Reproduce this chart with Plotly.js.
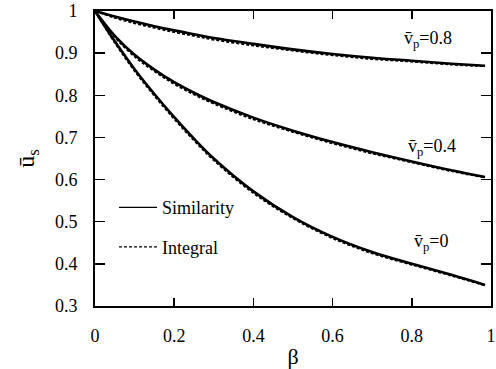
<!DOCTYPE html>
<html>
<head>
<meta charset="utf-8">
<script src="https://cdn.plot.ly/plotly-3.0.1.min.js"></script>
<style>
html,body{margin:0;padding:0;background:#fff;}
#chart{width:496px;height:369px;}
svg text{font-family:'Liberation Serif','Times New Roman','DejaVu Serif',serif !important;}
</style>
</head>
<body>
<div id="chart"></div>
<script>
// beta values
const beta = [0, 0.05, 0.1, 0.15, 0.2, 0.25, 0.3, 0.4, 0.5, 0.6, 0.7, 0.8, 0.9, 0.985];
// Similarity solution
const sim_vp0  = [1, 0.928, 0.862, 0.803, 0.748, 0.697, 0.650, 0.572, 0.511, 0.464, 0.428, 0.400, 0.374, 0.350];
const sim_vp04 = [1, 0.941, 0.896, 0.861, 0.831, 0.806, 0.784, 0.747, 0.716, 0.689, 0.665, 0.643, 0.622, 0.606];
const sim_vp08 = [1, 0.987, 0.975, 0.964, 0.954, 0.945, 0.936, 0.922, 0.909, 0.898, 0.889, 0.882, 0.875, 0.870];
// Integral solution
const int_vp0  = [1, 0.925, 0.858, 0.799, 0.744, 0.693, 0.646, 0.568, 0.508, 0.461, 0.425, 0.398, 0.372, 0.349];
const int_vp04 = [1, 0.938, 0.892, 0.857, 0.827, 0.802, 0.780, 0.743, 0.713, 0.686, 0.662, 0.641, 0.620, 0.605];
const int_vp08 = [1, 0.984, 0.971, 0.960, 0.950, 0.941, 0.932, 0.918, 0.906, 0.895, 0.886, 0.880, 0.873, 0.869];

const labels = ['v\u0304<sub>p</sub>=0.8', 'v\u0304<sub>p</sub>=0.4', 'v\u0304<sub>p</sub>=0'];
const labelX = [0.84, 0.85, 0.848];
const labelY = [0.932, 0.675, 0.45];
const xTicks = [0, 0.2, 0.4, 0.6, 0.8, 1];
const xTickText = ['0', '0.2', '0.4', '0.6', '0.8', '1'];
const yTicks = [0.3, 0.4, 0.5, 0.6, 0.7, 0.8, 0.9, 1];
const yTickText = ['0.3', '0.4', '0.5', '0.6', '0.7', '0.8', '0.9', '1'];

const font = '"Liberation Serif", "Times New Roman", serif';
const solid = {color: '#000', width: 2.6, shape: 'spline', smoothing: 1};
const dashed = {color: '#000', width: 2, dash: '3px,2px', shape: 'spline', smoothing: 1};

const traces = [
  {x: beta, y: sim_vp0, mode: 'lines', line: solid, showlegend: false},
  {x: beta, y: sim_vp04, mode: 'lines', line: solid, showlegend: false},
  {x: beta, y: sim_vp08, mode: 'lines', line: solid, showlegend: false},
  {x: beta, y: int_vp0, mode: 'lines', line: dashed, showlegend: false},
  {x: beta, y: int_vp04, mode: 'lines', line: dashed, showlegend: false},
  {x: beta, y: int_vp08, mode: 'lines', line: dashed, showlegend: false},
  // legend entries (thin line samples as in the reference)
  {x: [null], y: [null], mode: 'lines', line: {color: '#000', width: 1.3}, name: 'Similarity', legendgroup: 'a', showlegend: true},
  {x: [null], y: [null], mode: 'lines', line: {color: '#000', width: 1.3, dash: '3px,2px'}, name: 'Integral', legendgroup: 'b', showlegend: true}
];

const annotations = labels.map((t, i) => ({
  x: labelX[i], y: labelY[i], xref: 'x', yref: 'y', text: t, showarrow: false,
  font: {family: font, size: 18, color: '#000'}
}));

const layout = {
  width: 496, height: 369,
  margin: {l: 95, r: 5, t: 11, b: 63},
  paper_bgcolor: '#fff', plot_bgcolor: '#fff',
  font: {family: font, color: '#000', size: 18},
  showlegend: true,
  legend: {x: 0.048, y: 0.396, xanchor: 'left', yanchor: 'top', bgcolor: 'rgba(0,0,0,0)',
           font: {family: font, size: 18, color: '#000'}, traceorder: 'grouped', tracegroupgap: 13,
           itemwidth: 38},
  xaxis: {range: [0, 1], tickvals: xTicks, ticktext: xTickText, ticks: 'inside', ticklen: 8, tickwidth: 1.5,
          tickcolor: '#000', showline: true, linecolor: '#000', linewidth: 2, mirror: 'ticks',
          showgrid: false, zeroline: false, ticklabelstandoff: 12,
          tickfont: {family: font, size: 18, color: '#000'},
          title: {text: '\u03b2', font: {family: font, size: 22, color: '#000'}, standoff: 4}},
  yaxis: {range: [0.3, 1], tickvals: yTicks, ticktext: yTickText, ticks: 'inside', ticklen: 10, tickwidth: 1.5,
          tickcolor: '#000', showline: true, linecolor: '#000', linewidth: 2, mirror: 'ticks',
          showgrid: false, zeroline: false, ticklabelstandoff: 12,
          tickfont: {family: font, size: 18, color: '#000'},
          title: {text: 'u\u0304<sub>s</sub>', font: {family: font, size: 24, color: '#000'}, standoff: 14}},
  annotations: annotations
};

Plotly.newPlot('chart', traces, layout, {displayModeBar: false, staticPlot: true});
</script>
</body>
</html>
